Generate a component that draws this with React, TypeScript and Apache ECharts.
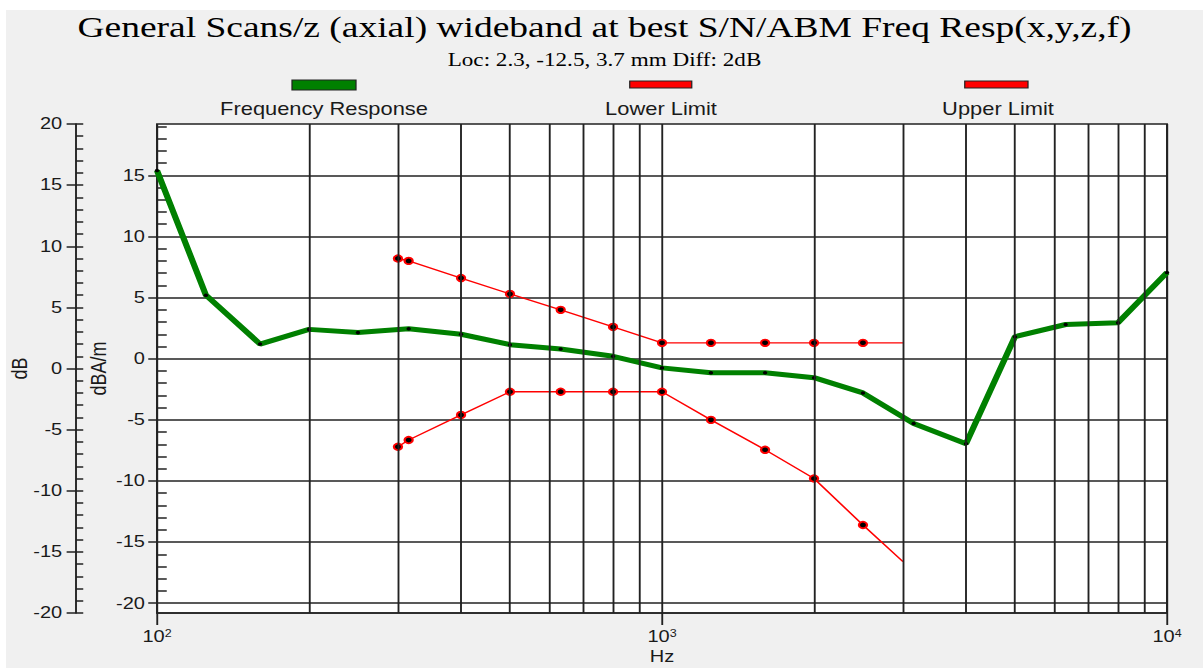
import React, { useEffect, useRef } from 'react';
import * as echarts from 'echarts';

// ---------- data ----------
const titleText = 'General Scans/z (axial) wideband at best S/N/ABM Freq Resp(x,y,z,f)';
const subtitleText = 'Loc: 2.3, -12.5, 3.7 mm Diff: 2dB';

const freqResponseHz = [100, 125, 160, 200, 250, 315, 400, 500, 630, 800, 1000, 1250, 1600, 2000, 2500, 3150, 4000, 5000, 6300, 8000, 10000];
const freqResponseDb = [15.4, 5.2, 1.2, 2.4, 2.15, 2.45, 2.0, 1.15, 0.8, 0.2, -0.75, -1.15, -1.15, -1.55, -2.8, -5.3, -6.95, 1.8, 2.8, 2.95, 7.05];

const limitHz = [300, 315, 400, 500, 630, 800, 1000, 1250, 1600, 2000, 2500, 3000];
const upperLimitDb = [8.2, 8.0, 6.6, 5.3, 4.0, 2.6, 1.3, 1.3, 1.3, 1.3, 1.3, 1.3];
const lowerLimitDb = [-7.2, -6.65, -4.6, -2.7, -2.7, -2.7, -2.7, -5.0, -7.45, -9.8, -13.6, -16.6];

const minorGridHz = [200, 300, 400, 500, 600, 700, 800, 900, 2000, 3000, 4000, 5000, 6000, 7000, 8000, 9000];
const innerMajorTicks = [-20, -15, -10, -5, 0, 5, 10, 15];
const innerMinorTicks = [-19, -18, -17, -16, -14, -13, -12, -11, -9, -8, -7, -6, -4, -3, -2, -1, 1, 2, 3, 4, 6, 7, 8, 9, 11, 12, 13, 14, 16, 17, 18, 19];

const legendNames = ['Frequency Response', 'Lower Limit', 'Upper Limit'];

// ---------- layout ----------
const SX = 1.25;
const CHART_W = 1197 / SX;
const CHART_H = 658;
const SANS = 'Liberation Sans, Arial, sans-serif';
const SERIF = 'Liberation Serif, Times New Roman, serif';
const INK = '#1a1a1a';
const GRID_LINE = { color: '#222', width: 1.5 };

const pairs = (xs: number[], ys: number[]) => xs.map((x, i) => [x, ys[i]]);
const limitData = (ys: number[]) =>
  limitHz.map((x, i) => (i === limitHz.length - 1 ? { value: [x, ys[i]], symbol: 'none' } : [x, ys[i]]));

export default function App() {
  const ref = useRef<HTMLDivElement>(null);

  useEffect(() => {
    const chart = echarts.init(ref.current!, undefined, { renderer: 'svg', width: CHART_W, height: CHART_H });
    const tickLabel = { fontFamily: SANS, fontSize: 16, color: INK };

    chart.setOption({
      animation: false,
      backgroundColor: '#f0f0f0',
      title: [
        { text: titleText, left: 'center', top: -3, textStyle: { fontFamily: SERIF, fontSize: 30, fontWeight: 'normal', color: '#000' } },
        { text: subtitleText, left: 'center', top: 35, textStyle: { fontFamily: SERIF, fontSize: 18.5, fontWeight: 'normal', color: '#000' } },
      ],
      graphic: [
        { type: 'rect', shape: { x: 228.8, y: 70, width: 51.2, height: 10 }, style: { fill: '#008000', stroke: '#222', lineWidth: 1 } },
        { type: 'text', x: 254.4, y: 98.5, style: { text: legendNames[0], align: 'center', verticalAlign: 'middle', font: `17.5px ${SANS}`, fill: INK } },
        { type: 'rect', shape: { x: 499, y: 71, width: 49.6, height: 7 }, style: { fill: '#ff0000', stroke: '#222', lineWidth: 1 } },
        { type: 'text', x: 524, y: 98.5, style: { text: legendNames[1], align: 'center', verticalAlign: 'middle', font: `17.5px ${SANS}`, fill: INK } },
        { type: 'rect', shape: { x: 767, y: 71, width: 50.6, height: 7 }, style: { fill: '#ff0000', stroke: '#222', lineWidth: 1 } },
        { type: 'text', x: 793.6, y: 98.5, style: { text: legendNames[2], align: 'center', verticalAlign: 'middle', font: `17.5px ${SANS}`, fill: INK } },
      ],
      grid: {
        left: 120.8, right: 28.8, top: 114, bottom: 55,
        outerBoundsMode: 'none', containLabel: false,
        show: true, backgroundColor: '#ffffff', borderColor: '#222', borderWidth: 1.5,
      },
      xAxis: {
        type: 'log', logBase: 10, min: 100, max: 10000,
        name: 'Hz', nameLocation: 'middle', nameGap: 36, nameMoveOverlap: false,
        nameTextStyle: { fontFamily: SANS, fontSize: 16, color: INK },
        axisLine: { show: true, onZero: false, lineStyle: GRID_LINE },
        axisTick: { show: true, length: 12, lineStyle: GRID_LINE },
        axisLabel: {
          margin: 15,
          formatter: (v: number) => `{b|10}{s|${Math.round(Math.log10(v))}}`,
          rich: {
            b: { fontFamily: SANS, fontSize: 16, color: INK },
            s: { fontFamily: SANS, fontSize: 10, color: INK, verticalAlign: 'top', padding: [0, 0, 8, 0] },
          },
        },
        splitLine: { show: true, lineStyle: GRID_LINE },
      },
      yAxis: [
        {
          // outer dB axis: labels and outward major ticks
          type: 'value', position: 'left', offset: 64.8, min: -20, max: 20, interval: 5,
          name: 'dB', nameLocation: 'middle', nameRotate: 90, nameGap: 36, nameMoveOverlap: false,
          nameTextStyle: { fontFamily: SANS, fontSize: 18, color: INK },
          axisLine: { show: true, onZero: false, lineStyle: GRID_LINE },
          axisTick: { show: true, length: 7.5, lineStyle: GRID_LINE },
          axisLabel: { ...tickLabel, margin: 11 },
          splitLine: { show: false },
        },
        {
          // outer dB axis: inward minor ticks
          type: 'value', position: 'left', offset: 64.8, min: -20, max: 20, interval: 1,
          axisLine: { show: false, onZero: false },
          axisTick: { show: true, inside: true, length: 5.8, lineStyle: GRID_LINE },
          axisLabel: { show: false },
          splitLine: { show: false },
        },
        {
          // inner dBA/m axis (data axis)
          type: 'value', position: 'left', offset: 0, min: -20.8, max: 19.2,
          name: 'dBA/m', nameLocation: 'middle', nameRotate: 90, nameGap: 38, nameMoveOverlap: false,
          nameTextStyle: { fontFamily: SANS, fontSize: 18, color: INK },
          axisLine: { show: false, onZero: false },
          axisTick: { show: true, length: 7, lineStyle: GRID_LINE, customValues: innerMajorTicks },
          axisLabel: { ...tickLabel, margin: 9.6, customValues: innerMajorTicks },
          splitLine: { show: true, lineStyle: GRID_LINE },
        },
        {
          // inner axis: inward minor ticks
          type: 'value', position: 'left', offset: 0, min: -20.8, max: 19.2,
          axisLine: { show: false, onZero: false },
          axisTick: { show: true, inside: true, length: 7.8, lineStyle: GRID_LINE, customValues: innerMinorTicks },
          axisLabel: { show: false },
          splitLine: { show: false },
        },
      ],
      series: [
        {
          name: 'grid', type: 'line', data: [], yAxisIndex: 2, z: 1, silent: true,
          markLine: {
            silent: true, symbol: 'none', label: { show: false },
            lineStyle: { ...GRID_LINE, type: 'solid' },
            data: minorGridHz.map((f) => ({ xAxis: f })),
          },
        },
        {
          name: legendNames[1], type: 'line', yAxisIndex: 2, z: 3,
          data: limitData(upperLimitDb),
          lineStyle: { color: '#ff0000', width: 1.4 },
          symbol: 'circle', symbolSize: 6.5,
          itemStyle: { color: '#000', borderColor: '#ff0000', borderWidth: 1.8 },
        },
        {
          name: legendNames[2], type: 'line', yAxisIndex: 2, z: 3,
          data: limitData(lowerLimitDb),
          lineStyle: { color: '#ff0000', width: 1.4 },
          symbol: 'circle', symbolSize: 6.5,
          itemStyle: { color: '#000', borderColor: '#ff0000', borderWidth: 1.8 },
        },
        {
          name: legendNames[0], type: 'line', yAxisIndex: 2, z: 4,
          data: pairs(freqResponseHz, freqResponseDb),
          lineStyle: { color: '#008000', width: 5 },
          symbol: 'circle', symbolSize: 3.5,
          itemStyle: { color: '#000' },
        },
      ],
    });
    return () => chart.dispose();
  }, []);

  return (
    <div
      ref={ref}
      style={{
        position: 'absolute', left: 6, top: 10, width: CHART_W, height: CHART_H,
        transform: `scaleX(${SX})`, transformOrigin: '0 0', background: '#f0f0f0',
      }}
    />
  );
}
